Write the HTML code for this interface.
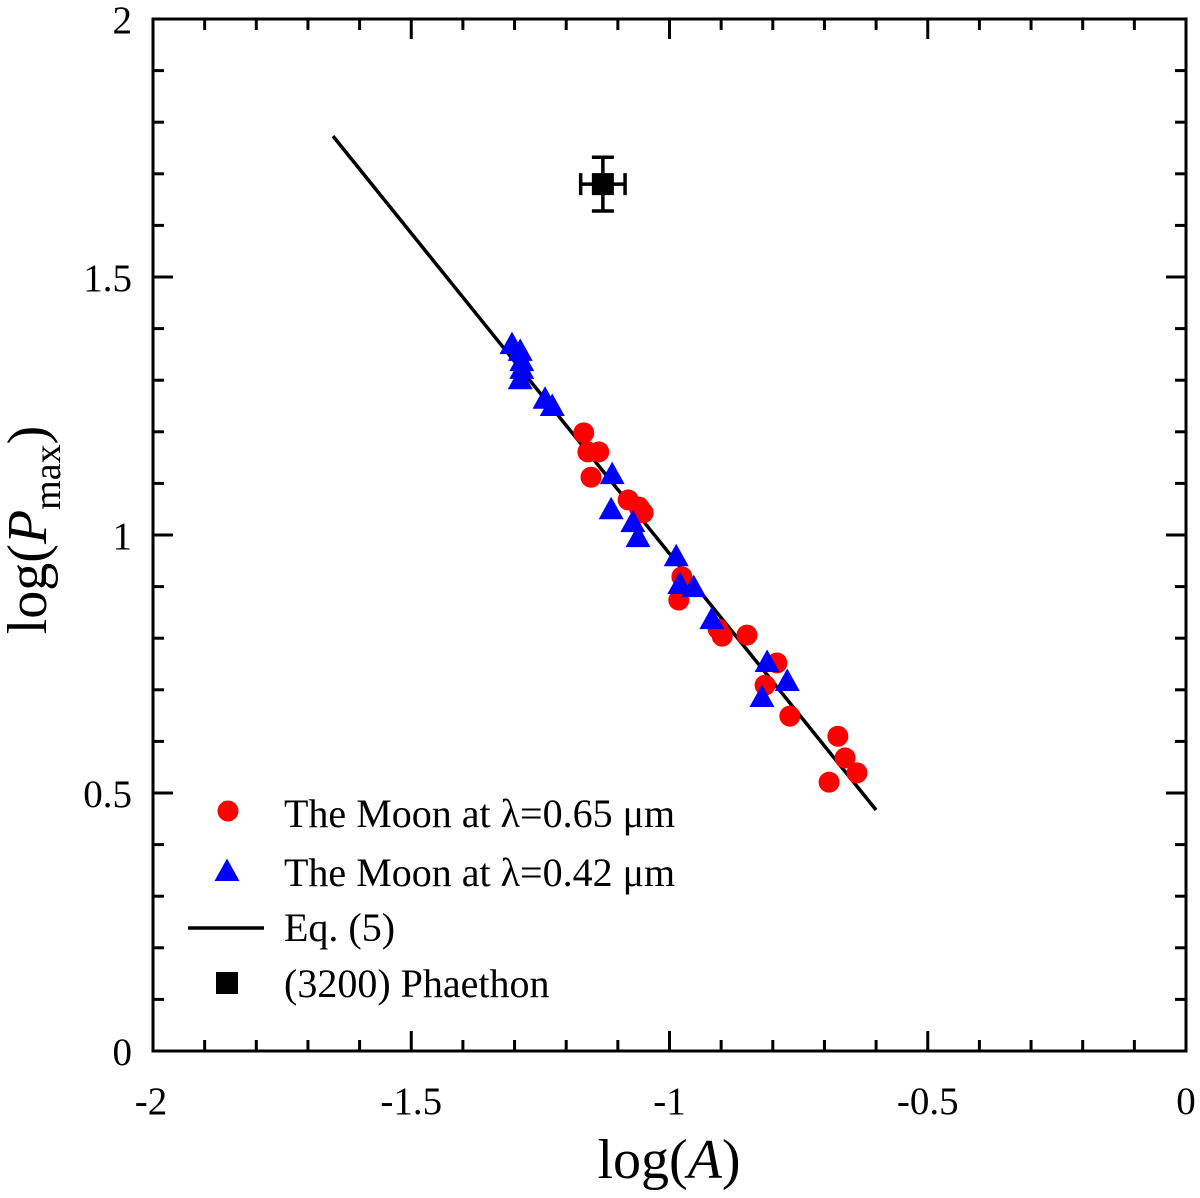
<!DOCTYPE html>
<html><head><meta charset="utf-8"><style>
html,body{margin:0;padding:0;background:#fff}
svg text{font-family:"Liberation Serif",serif;fill:#000}
</style></head><body>
<svg id="chart" width="1200" height="1193" viewBox="0 0 1200 1193" xmlns="http://www.w3.org/2000/svg"></svg>
<script>
const redX=[-1.166,-1.158,-1.137,-1.152,-1.080,-1.059,-1.051,-0.976,-0.982,-0.906,-0.898,-0.850,-0.792,-0.815,-0.767,-0.674,-0.660,-0.637,-0.691];
const redY=[1.198,1.161,1.161,1.112,1.068,1.054,1.043,0.919,0.874,0.818,0.804,0.806,0.752,0.709,0.649,0.610,0.568,0.539,0.521];
const blueX=[-1.305,-1.289,-1.286,-1.286,-1.289,-1.241,-1.227,-1.111,-1.113,-1.071,-1.061,-0.987,-0.980,-0.953,-0.918,-0.811,-0.772,-0.821];
const blueY=[1.368,1.355,1.335,1.320,1.300,1.262,1.248,1.116,1.048,1.023,0.994,0.957,0.903,0.897,0.835,0.752,0.715,0.684];
const lineX=[-1.6515,-0.600];
const lineY=[1.773,0.467];
const phX=[-1.129], phY=[1.680], phXerr=[0.043], phYerr=[0.052];
const xTicks=[-2,-1.5,-1,-0.5,0];
const xTickLabels=["-2","-1.5","-1","-0.5","0"];
const yTicks=[0,0.5,1,1.5,2];
const yTickLabels=["0","0.5","1","1.5","2"];

const L=153,R=1186,T=19,B=1051;
const sx=v=>L+(v+2)/2*(R-L);
const sy=v=>B-v/2*(B-T);
const svg=document.getElementById('chart');
const NS='http://www.w3.org/2000/svg';
function mk(tag,attrs,parent){const e=document.createElementNS(NS,tag);for(const k in attrs)e.setAttribute(k,attrs[k]);(parent||svg).appendChild(e);return e;}

const tg=mk('g',{stroke:'#000','stroke-width':3});


for(let i=0;i<=20;i++){
  const v=-2+i*0.1, x=sx(v), len=(i%5===0)?20:11;
  mk('line',{x1:x,y1:B,x2:x,y2:B-len},tg);
  mk('line',{x1:x,y1:T,x2:x,y2:T+len},tg);
  const w=i*0.1, y=sy(w);
  mk('line',{x1:L,y1:y,x2:L+len,y2:y},tg);
  mk('line',{x1:R,y1:y,x2:R-len,y2:y},tg);
}
const frame=mk('rect',{x:L,y:T,width:R-L,height:B-T,fill:'none',stroke:'#000','stroke-width':3});



xTicks.forEach((v,i)=>{const t=mk('text',{x:sx(v)-(i===0?2:0),y:1114,'font-size':39,'text-anchor':'middle'});t.textContent=xTickLabels[i];

});
yTicks.forEach((v,i)=>{const t=mk('text',{x:132,y:sy(v)+14,'font-size':39,'text-anchor':'end'});t.textContent=yTickLabels[i];

});

const xt=mk('text',{x:669,y:1178,'font-size':56,'text-anchor':'middle'});
xt.innerHTML='log(<tspan font-style="italic">A</tspan>)';


const yt=mk('text',{x:0,y:0,'font-size':56,'text-anchor':'middle',transform:'translate(46,530) rotate(-90)'});
yt.innerHTML='log(<tspan font-style="italic">P</tspan><tspan font-size="38" dy="14">max</tspan><tspan dy="-14">)</tspan>';



const fl=mk('line',{x1:sx(lineX[0]),y1:sy(lineY[0]),x2:sx(lineX[1]),y2:sy(lineY[1]),stroke:'#000','stroke-width':3.5});



function tri(cx,cy,s,parent){const h=s*0.9;return mk('polygon',{points:`${cx},${cy-h*0.6} ${cx-s/2},${cy+h*0.4} ${cx+s/2},${cy+h*0.4}`,fill:'#0000ff'},parent);}
const rg=mk('g',{});


redX.forEach((v,i)=>{const c=mk('circle',{cx:sx(v),cy:sy(redY[i]),r:10.5,fill:'#ff0000'},rg);

});
const bg=mk('g',{});


blueX.forEach((v,i)=>{const p=tri(sx(v),sy(blueY[i]),25,bg);

});

const pg=mk('g',{stroke:'#000','stroke-width':3.5});


phX.forEach((v,i)=>{
  const cx=sx(v),cy=sy(phY[i]);
  const x1=sx(v-phXerr[i]),x2=sx(v+phXerr[i]),y1=sy(phY[i]+phYerr[i]),y2=sy(phY[i]-phYerr[i]);
  mk('line',{x1:x1,y1:cy,x2:x2,y2:cy},pg);
  mk('line',{x1:cx,y1:y1,x2:cx,y2:y2},pg);
  mk('line',{x1:x1,y1:cy-11,x2:x1,y2:cy+11},pg);
  mk('line',{x1:x2,y1:cy-11,x2:x2,y2:cy+11},pg);
  mk('line',{x1:cx-11,y1:y1,x2:cx+11,y2:y1},pg);
  mk('line',{x1:cx-11,y1:y2,x2:cx+11,y2:y2},pg);
  mk('rect',{x:cx-11,y:cy-11,width:22,height:22,fill:'#000',stroke:'none'},pg);
});

const lg=mk('g',{});


const e1=mk('circle',{cx:228,cy:811,r:10.5,fill:'#ff0000'},lg);


const e2=tri(227,872,25,lg);


const e3=mk('line',{x1:188,y1:928,x2:264,y2:928,stroke:'#000','stroke-width':3.5},lg);


const e4=mk('rect',{x:216,y:972,width:22,height:22,fill:'#000'},lg);


const labels=[['The Moon at λ=0.65 μm',827],['The Moon at λ=0.42 μm',886],['Eq. (5)',941],['(3200) Phaethon',997]];
labels.forEach(l=>{const t=mk('text',{x:284,y:l[1],'font-size':40},lg);t.textContent=l[0];

});
</script>
</body></html>
